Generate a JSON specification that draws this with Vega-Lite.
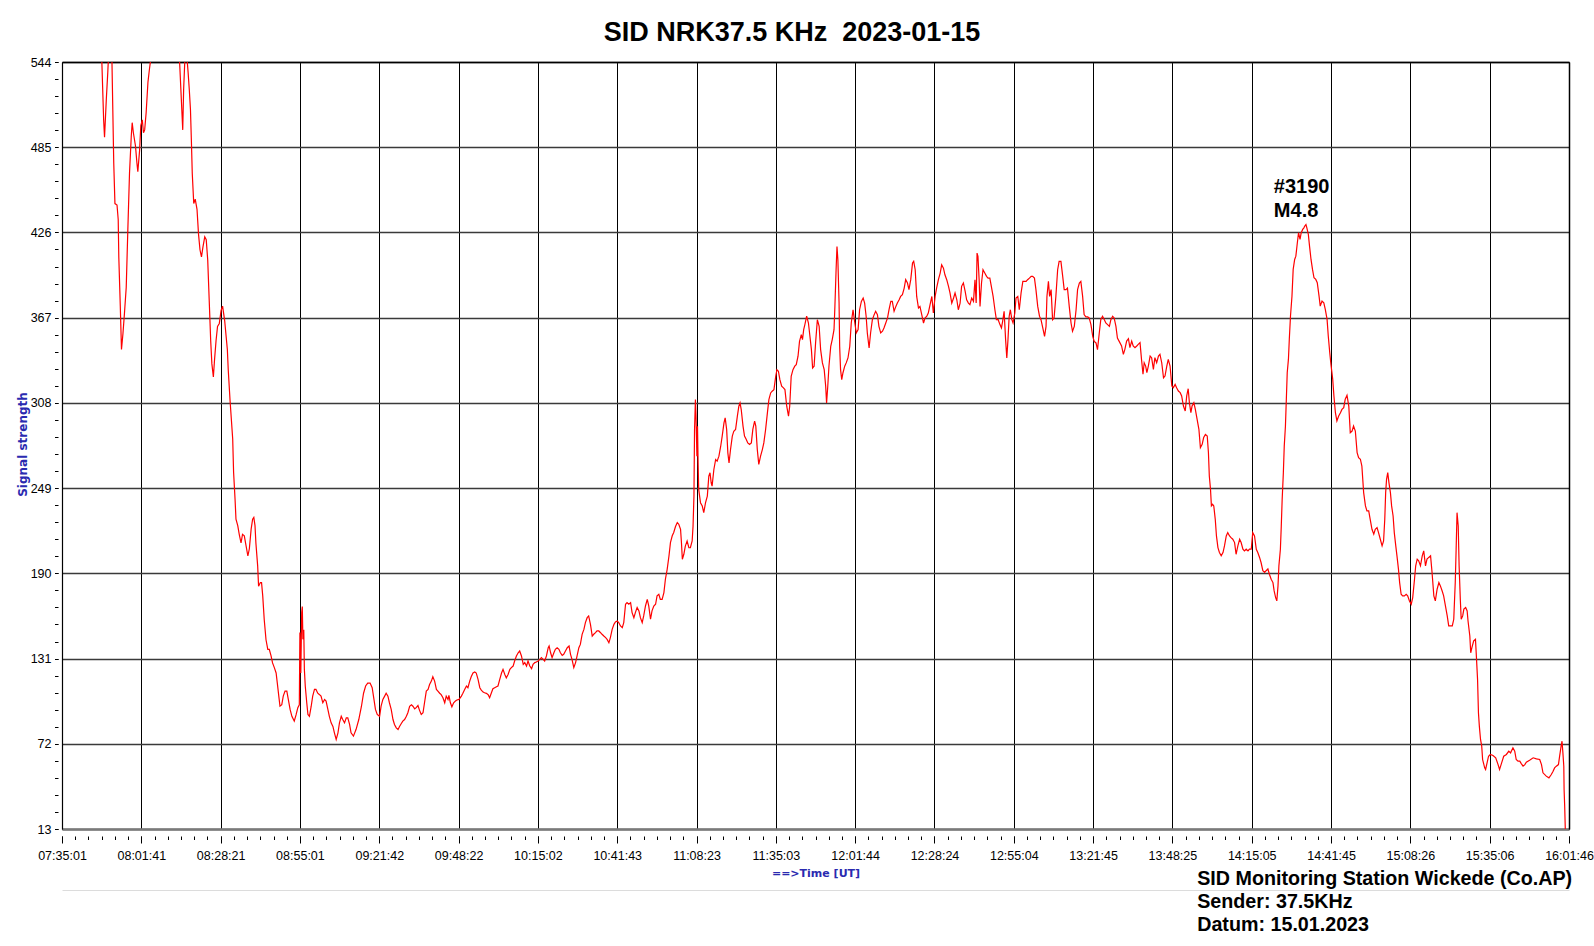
{
  "$schema": "https://vega.github.io/schema/vega-lite/v6.json",
  "description": "SID signal strength of NRK 37.5 kHz on 2023-01-15, recorded in Wickede, with the M4.8 flare #3190.",
  "width": 1507,
  "height": 767,
  "autosize": "none",
  "padding": {"left": 62, "top": 62, "right": 25, "bottom": 117},
  "background": "white",
  "config": {"view": {"stroke": null}, "font": "Liberation Sans"},
  "data": {
    "values": [
      {"t": 13.2, "signal": 560}, {"t": 13.4, "signal": 544}, {"t": 14.0, "signal": 504}, {"t": 14.3, "signal": 492},
      {"t": 14.9, "signal": 518}, {"t": 15.4, "signal": 537}, {"t": 15.9, "signal": 560}, {"t": 16.4, "signal": 560},
      {"t": 16.8, "signal": 544}, {"t": 17.1, "signal": 509}, {"t": 17.4, "signal": 474}, {"t": 17.8, "signal": 446},
      {"t": 18.5, "signal": 445}, {"t": 18.9, "signal": 435}, {"t": 19.1, "signal": 409}, {"t": 19.6, "signal": 375},
      {"t": 20.0, "signal": 345}, {"t": 20.5, "signal": 356}, {"t": 21.0, "signal": 370}, {"t": 21.6, "signal": 388},
      {"t": 22.1, "signal": 425}, {"t": 22.7, "signal": 467}, {"t": 23.3, "signal": 493}, {"t": 23.6, "signal": 502},
      {"t": 24.0, "signal": 495}, {"t": 24.7, "signal": 486}, {"t": 25.2, "signal": 474}, {"t": 25.5, "signal": 468},
      {"t": 26.1, "signal": 483}, {"t": 26.5, "signal": 500}, {"t": 27.0, "signal": 504}, {"t": 27.4, "signal": 495},
      {"t": 27.8, "signal": 497}, {"t": 28.3, "signal": 509}, {"t": 28.9, "signal": 530}, {"t": 29.4, "signal": 539},
      {"t": 30.1, "signal": 550}, {"t": 31.6, "signal": 575}, {"t": 33.9, "signal": 590}, {"t": 36.1, "signal": 585},
      {"t": 38.4, "signal": 565}, {"t": 39.5, "signal": 546}, {"t": 40.6, "signal": 497}, {"t": 40.9, "signal": 525},
      {"t": 41.4, "signal": 550}, {"t": 41.9, "signal": 550}, {"t": 42.4, "signal": 537}, {"t": 42.8, "signal": 525},
      {"t": 43.2, "signal": 511}, {"t": 43.5, "signal": 490}, {"t": 43.8, "signal": 467}, {"t": 44.3, "signal": 446},
      {"t": 44.8, "signal": 449}, {"t": 45.4, "signal": 442}, {"t": 45.9, "signal": 425}, {"t": 46.4, "signal": 414},
      {"t": 46.9, "signal": 409}, {"t": 47.4, "signal": 416}, {"t": 48.0, "signal": 423}, {"t": 48.5, "signal": 421},
      {"t": 49.0, "signal": 407}, {"t": 49.5, "signal": 379}, {"t": 50.0, "signal": 351}, {"t": 50.4, "signal": 335},
      {"t": 50.9, "signal": 326}, {"t": 51.3, "signal": 338}, {"t": 51.8, "signal": 351}, {"t": 52.3, "signal": 361},
      {"t": 52.9, "signal": 363}, {"t": 53.5, "signal": 372}, {"t": 54.0, "signal": 375}, {"t": 54.7, "signal": 365},
      {"t": 55.1, "signal": 356}, {"t": 55.6, "signal": 345}, {"t": 55.9, "signal": 331}, {"t": 56.5, "signal": 310},
      {"t": 57.4, "signal": 283}, {"t": 57.7, "signal": 260}, {"t": 58.2, "signal": 241}, {"t": 58.5, "signal": 227.5},
      {"t": 59.1, "signal": 223}, {"t": 59.6, "signal": 217}, {"t": 60.2, "signal": 211}, {"t": 60.7, "signal": 217},
      {"t": 61.3, "signal": 216}, {"t": 61.9, "signal": 209}, {"t": 62.5, "signal": 202}, {"t": 63.0, "signal": 207},
      {"t": 63.6, "signal": 220.6}, {"t": 64.1, "signal": 227.5}, {"t": 64.5, "signal": 228.7}, {"t": 64.9, "signal": 223},
      {"t": 65.2, "signal": 211}, {"t": 65.8, "signal": 195}, {"t": 66.1, "signal": 181}, {"t": 66.7, "signal": 183.6},
      {"t": 67.1, "signal": 183.6}, {"t": 67.5, "signal": 174.4}, {"t": 68.0, "signal": 158}, {"t": 68.6, "signal": 144},
      {"t": 69.2, "signal": 137.4}, {"t": 69.7, "signal": 137.4}, {"t": 70.3, "signal": 132.8}, {"t": 70.8, "signal": 128},
      {"t": 71.4, "signal": 124.7}, {"t": 72.0, "signal": 121}, {"t": 72.4, "signal": 114}, {"t": 72.9, "signal": 105},
      {"t": 73.3, "signal": 98}, {"t": 73.9, "signal": 99}, {"t": 74.4, "signal": 105}, {"t": 75.0, "signal": 108.5},
      {"t": 75.6, "signal": 108.5}, {"t": 76.1, "signal": 102.7}, {"t": 76.7, "signal": 95.8}, {"t": 77.3, "signal": 91},
      {"t": 78.1, "signal": 87.7}, {"t": 78.7, "signal": 92}, {"t": 79.3, "signal": 97}, {"t": 79.8, "signal": 99},
      {"t": 80.0, "signal": 149}, {"t": 80.3, "signal": 121}, {"t": 80.6, "signal": 162.8}, {"t": 80.8, "signal": 167},
      {"t": 81.0, "signal": 144.3}, {"t": 81.3, "signal": 151}, {"t": 81.5, "signal": 123.5}, {"t": 81.8, "signal": 112},
      {"t": 82.3, "signal": 100.4}, {"t": 82.7, "signal": 92.3}, {"t": 83.2, "signal": 91}, {"t": 83.8, "signal": 98},
      {"t": 84.3, "signal": 105}, {"t": 84.9, "signal": 109.6}, {"t": 85.4, "signal": 109.6}, {"t": 86.0, "signal": 107},
      {"t": 86.6, "signal": 106}, {"t": 87.1, "signal": 105}, {"t": 87.7, "signal": 100.4}, {"t": 88.3, "signal": 102.7},
      {"t": 88.8, "signal": 101.6}, {"t": 89.4, "signal": 95.8}, {"t": 89.9, "signal": 91}, {"t": 90.5, "signal": 86.5},
      {"t": 91.1, "signal": 84}, {"t": 91.6, "signal": 79.6}, {"t": 92.2, "signal": 75}, {"t": 92.8, "signal": 79.6},
      {"t": 93.3, "signal": 86.5}, {"t": 93.9, "signal": 91}, {"t": 94.4, "signal": 88.8}, {"t": 95.0, "signal": 86.5},
      {"t": 95.6, "signal": 90}, {"t": 96.1, "signal": 90}, {"t": 96.7, "signal": 85.4}, {"t": 97.2, "signal": 79.6},
      {"t": 98.0, "signal": 77.3}, {"t": 98.9, "signal": 82}, {"t": 99.8, "signal": 88.8}, {"t": 100.7, "signal": 98},
      {"t": 101.4, "signal": 107}, {"t": 102.1, "signal": 112}, {"t": 102.8, "signal": 114}, {"t": 103.6, "signal": 114},
      {"t": 104.3, "signal": 110.8}, {"t": 104.9, "signal": 102.7}, {"t": 105.4, "signal": 95.8}, {"t": 106.0, "signal": 92.3},
      {"t": 106.8, "signal": 91}, {"t": 107.3, "signal": 98}, {"t": 107.9, "signal": 102.7}, {"t": 108.5, "signal": 105},
      {"t": 109.0, "signal": 107}, {"t": 109.6, "signal": 105}, {"t": 110.1, "signal": 100.4}, {"t": 110.7, "signal": 95.8},
      {"t": 111.3, "signal": 88.8}, {"t": 111.8, "signal": 85.4}, {"t": 112.4, "signal": 83}, {"t": 113.0, "signal": 81.9},
      {"t": 113.5, "signal": 84}, {"t": 114.1, "signal": 86}, {"t": 114.6, "signal": 87.7}, {"t": 115.2, "signal": 88.8},
      {"t": 115.8, "signal": 91}, {"t": 116.3, "signal": 93.5}, {"t": 116.9, "signal": 98}, {"t": 117.5, "signal": 99},
      {"t": 118.0, "signal": 98}, {"t": 118.6, "signal": 96.2}, {"t": 119.1, "signal": 97}, {"t": 119.7, "signal": 98.5},
      {"t": 120.2, "signal": 95.3}, {"t": 120.8, "signal": 92.3}, {"t": 121.4, "signal": 93.5}, {"t": 121.9, "signal": 100.4},
      {"t": 122.5, "signal": 108.5}, {"t": 123.1, "signal": 109.6}, {"t": 123.6, "signal": 113}, {"t": 124.2, "signal": 115.4},
      {"t": 124.7, "signal": 118.4}, {"t": 125.3, "signal": 115.4}, {"t": 125.9, "signal": 109.6}, {"t": 126.4, "signal": 108.5},
      {"t": 127.0, "signal": 107}, {"t": 127.5, "signal": 106}, {"t": 128.1, "signal": 103.9}, {"t": 128.7, "signal": 100.4},
      {"t": 129.2, "signal": 105}, {"t": 129.8, "signal": 102.7}, {"t": 130.1, "signal": 105.5}, {"t": 130.6, "signal": 100.4},
      {"t": 131.1, "signal": 97.6}, {"t": 131.7, "signal": 100.4}, {"t": 132.3, "signal": 101.6}, {"t": 132.8, "signal": 102.3},
      {"t": 133.5, "signal": 102.7}, {"t": 134.3, "signal": 105}, {"t": 134.8, "signal": 107}, {"t": 135.4, "signal": 109.6},
      {"t": 136.0, "signal": 112}, {"t": 136.5, "signal": 110.8}, {"t": 137.1, "signal": 115.4}, {"t": 137.6, "signal": 118.4},
      {"t": 138.2, "signal": 121}, {"t": 138.8, "signal": 121.7}, {"t": 139.3, "signal": 121}, {"t": 139.9, "signal": 116.6},
      {"t": 140.5, "signal": 110.8}, {"t": 141.0, "signal": 109.2}, {"t": 141.6, "signal": 107.8}, {"t": 142.1, "signal": 107.3},
      {"t": 142.7, "signal": 106.9}, {"t": 143.3, "signal": 106}, {"t": 143.8, "signal": 103.9}, {"t": 144.4, "signal": 107.3},
      {"t": 144.9, "signal": 110.1}, {"t": 145.5, "signal": 110.8}, {"t": 146.1, "signal": 111.5}, {"t": 146.6, "signal": 112},
      {"t": 147.2, "signal": 116.6}, {"t": 147.8, "signal": 121}, {"t": 148.3, "signal": 123.5}, {"t": 148.9, "signal": 120},
      {"t": 149.4, "signal": 117.7}, {"t": 150.0, "signal": 120}, {"t": 150.6, "signal": 123.5}, {"t": 151.1, "signal": 124.7},
      {"t": 151.7, "signal": 125.8}, {"t": 152.2, "signal": 129.3}, {"t": 152.8, "signal": 132.8}, {"t": 153.4, "signal": 135},
      {"t": 153.9, "signal": 136.2}, {"t": 154.5, "signal": 132.8}, {"t": 155.1, "signal": 127}, {"t": 155.6, "signal": 128.2},
      {"t": 156.2, "signal": 125.8}, {"t": 156.7, "signal": 129.3}, {"t": 157.3, "signal": 125.8}, {"t": 157.9, "signal": 124},
      {"t": 158.4, "signal": 127}, {"t": 159.0, "signal": 128.2}, {"t": 159.5, "signal": 128.6}, {"t": 160.1, "signal": 129.3},
      {"t": 160.7, "signal": 130.4}, {"t": 161.2, "signal": 131.6}, {"t": 161.8, "signal": 130.4}, {"t": 162.3, "signal": 129.3},
      {"t": 162.9, "signal": 132.8}, {"t": 163.5, "signal": 138.5}, {"t": 163.8, "signal": 139.7}, {"t": 164.3, "signal": 135},
      {"t": 164.8, "signal": 131.6}, {"t": 165.4, "signal": 135}, {"t": 165.9, "signal": 137.4}, {"t": 166.5, "signal": 138.5},
      {"t": 167.1, "signal": 137.4}, {"t": 167.6, "signal": 135}, {"t": 168.2, "signal": 133.2}, {"t": 168.7, "signal": 133.9},
      {"t": 169.3, "signal": 136.2}, {"t": 169.9, "signal": 138.5}, {"t": 170.5, "signal": 139.7}, {"t": 171.0, "signal": 133.9},
      {"t": 171.5, "signal": 130.4}, {"t": 172.1, "signal": 124.7}, {"t": 172.7, "signal": 128.2}, {"t": 173.2, "signal": 132.8},
      {"t": 173.8, "signal": 138.5}, {"t": 174.3, "signal": 140.8}, {"t": 174.9, "signal": 147.8}, {"t": 175.5, "signal": 151.2},
      {"t": 176.0, "signal": 155.9}, {"t": 176.6, "signal": 159.3}, {"t": 177.1, "signal": 160.5}, {"t": 177.7, "signal": 154.7},
      {"t": 178.3, "signal": 146.6}, {"t": 178.8, "signal": 147.8}, {"t": 179.4, "signal": 148.9}, {"t": 179.9, "signal": 150.1},
      {"t": 180.5, "signal": 150.1}, {"t": 181.1, "signal": 148.9}, {"t": 181.6, "signal": 147.8}, {"t": 182.2, "signal": 146.6},
      {"t": 182.8, "signal": 145.5}, {"t": 183.3, "signal": 144.3}, {"t": 183.9, "signal": 142}, {"t": 184.4, "signal": 145.5},
      {"t": 185.0, "signal": 151.2}, {"t": 185.6, "signal": 154.7}, {"t": 186.1, "signal": 156.3}, {"t": 186.7, "signal": 157},
      {"t": 187.2, "signal": 155.9}, {"t": 187.8, "signal": 153.6}, {"t": 188.4, "signal": 152.4}, {"t": 188.9, "signal": 155.9},
      {"t": 189.5, "signal": 168.6}, {"t": 190.0, "signal": 169.7}, {"t": 190.6, "signal": 168.6}, {"t": 191.2, "signal": 169.7},
      {"t": 191.7, "signal": 162.8}, {"t": 192.3, "signal": 159.3}, {"t": 192.8, "signal": 162.8}, {"t": 193.4, "signal": 166.3},
      {"t": 194.0, "signal": 164}, {"t": 194.5, "signal": 159.3}, {"t": 195.1, "signal": 155.9}, {"t": 195.6, "signal": 160.5},
      {"t": 196.2, "signal": 167.4}, {"t": 196.8, "signal": 172}, {"t": 197.3, "signal": 167.4}, {"t": 197.9, "signal": 158.2},
      {"t": 198.4, "signal": 164}, {"t": 199.0, "signal": 167.4}, {"t": 199.6, "signal": 168.6}, {"t": 200.1, "signal": 174.4},
      {"t": 200.7, "signal": 175.5}, {"t": 201.2, "signal": 172}, {"t": 201.8, "signal": 172}, {"t": 202.4, "signal": 176.7},
      {"t": 202.9, "signal": 185.9}, {"t": 203.5, "signal": 192.8}, {"t": 204.1, "signal": 202}, {"t": 204.6, "signal": 211.3},
      {"t": 205.2, "signal": 216}, {"t": 205.7, "signal": 218.3}, {"t": 206.3, "signal": 222.4}, {"t": 206.9, "signal": 225.2},
      {"t": 207.4, "signal": 224}, {"t": 208.0, "signal": 220.4}, {"t": 208.3, "signal": 211.2}, {"t": 208.6, "signal": 199.7},
      {"t": 209.1, "signal": 203.2}, {"t": 209.6, "signal": 208.9}, {"t": 210.2, "signal": 212.4}, {"t": 210.8, "signal": 207.7},
      {"t": 211.3, "signal": 207.7}, {"t": 211.9, "signal": 212.4}, {"t": 212.2, "signal": 222.7}, {"t": 212.5, "signal": 243.5},
      {"t": 212.7, "signal": 289.6}, {"t": 213.0, "signal": 310.3}, {"t": 213.2, "signal": 298.8}, {"t": 213.5, "signal": 271},
      {"t": 213.7, "signal": 291.9}, {"t": 213.9, "signal": 266.5}, {"t": 214.1, "signal": 248.1}, {"t": 214.7, "signal": 238.9},
      {"t": 215.3, "signal": 236.6}, {"t": 215.8, "signal": 232}, {"t": 216.4, "signal": 238.9}, {"t": 217.0, "signal": 243.5},
      {"t": 217.5, "signal": 257.3}, {"t": 217.9, "signal": 259.6}, {"t": 218.3, "signal": 252.7}, {"t": 218.6, "signal": 250.4},
      {"t": 219.2, "signal": 261.9}, {"t": 219.8, "signal": 268.8}, {"t": 220.3, "signal": 267.7}, {"t": 220.9, "signal": 271.1},
      {"t": 221.5, "signal": 278}, {"t": 222.0, "signal": 285}, {"t": 222.6, "signal": 294.2}, {"t": 223.0, "signal": 297.6},
      {"t": 223.5, "signal": 289.6}, {"t": 223.9, "signal": 273.4}, {"t": 224.3, "signal": 266.5}, {"t": 224.8, "signal": 275.7},
      {"t": 225.4, "signal": 285}, {"t": 225.9, "signal": 288.4}, {"t": 226.5, "signal": 289.6}, {"t": 227.1, "signal": 298.8},
      {"t": 227.6, "signal": 305.7}, {"t": 228.0, "signal": 308}, {"t": 228.4, "signal": 303.4}, {"t": 229.0, "signal": 291.9},
      {"t": 229.5, "signal": 285}, {"t": 230.1, "signal": 282.6}, {"t": 230.6, "signal": 280.3}, {"t": 231.2, "signal": 279.2},
      {"t": 231.8, "signal": 280.3}, {"t": 232.3, "signal": 289.6}, {"t": 232.9, "signal": 295.3}, {"t": 233.3, "signal": 291.9},
      {"t": 233.8, "signal": 275.7}, {"t": 234.3, "signal": 265.4}, {"t": 234.9, "signal": 271.1}, {"t": 235.5, "signal": 275.7},
      {"t": 236.0, "signal": 280.3}, {"t": 236.6, "signal": 289.6}, {"t": 237.2, "signal": 301.1}, {"t": 237.7, "signal": 310.3},
      {"t": 238.3, "signal": 314.9}, {"t": 238.8, "signal": 316.1}, {"t": 239.4, "signal": 317.2}, {"t": 240.0, "signal": 326.4},
      {"t": 240.4, "signal": 331}, {"t": 240.9, "signal": 329.9}, {"t": 241.4, "signal": 324.1}, {"t": 242.0, "signal": 319.5},
      {"t": 242.6, "signal": 318.4}, {"t": 243.1, "signal": 317.2}, {"t": 243.7, "signal": 305.7}, {"t": 244.3, "signal": 298.8},
      {"t": 244.7, "signal": 305.7}, {"t": 245.2, "signal": 326.4}, {"t": 245.8, "signal": 331}, {"t": 246.4, "signal": 333.4},
      {"t": 246.9, "signal": 334.5}, {"t": 247.5, "signal": 340.3}, {"t": 248.0, "signal": 350.6}, {"t": 248.6, "signal": 355.2},
      {"t": 249.0, "signal": 351.8}, {"t": 249.4, "signal": 358.7}, {"t": 249.8, "signal": 362.2}, {"t": 250.4, "signal": 368},
      {"t": 251.0, "signal": 363.3}, {"t": 251.5, "signal": 354.1}, {"t": 252.0, "signal": 344.9}, {"t": 252.4, "signal": 332.2},
      {"t": 252.9, "signal": 333.4}, {"t": 253.4, "signal": 349.5}, {"t": 254.0, "signal": 365.6}, {"t": 254.6, "signal": 361},
      {"t": 255.1, "signal": 344.9}, {"t": 255.7, "signal": 335.7}, {"t": 256.3, "signal": 331}, {"t": 256.8, "signal": 319.5},
      {"t": 257.1, "signal": 308}, {"t": 257.5, "signal": 319.5}, {"t": 257.9, "signal": 333.4}, {"t": 258.5, "signal": 347.2},
      {"t": 259.0, "signal": 351.8}, {"t": 259.6, "signal": 358.7}, {"t": 259.9, "signal": 374.8}, {"t": 260.3, "signal": 400.2},
      {"t": 260.6, "signal": 416.3}, {"t": 260.9, "signal": 407.1}, {"t": 261.3, "signal": 377.1}, {"t": 261.5, "signal": 347.2},
      {"t": 261.8, "signal": 331}, {"t": 262.2, "signal": 324.1}, {"t": 262.6, "signal": 328.7}, {"t": 263.2, "signal": 333.4},
      {"t": 263.7, "signal": 335.7}, {"t": 264.3, "signal": 339.1}, {"t": 264.9, "signal": 347.2}, {"t": 265.4, "signal": 363.3},
      {"t": 266.0, "signal": 372.5}, {"t": 266.6, "signal": 363.3}, {"t": 267.1, "signal": 356.4}, {"t": 267.7, "signal": 358.7},
      {"t": 268.2, "signal": 372.5}, {"t": 268.8, "signal": 378.3}, {"t": 269.4, "signal": 380.6}, {"t": 269.9, "signal": 377.1},
      {"t": 270.4, "signal": 368}, {"t": 270.8, "signal": 356.4}, {"t": 271.4, "signal": 346}, {"t": 271.9, "signal": 356.4},
      {"t": 272.5, "signal": 365.6}, {"t": 273.1, "signal": 369.1}, {"t": 273.6, "signal": 371.4}, {"t": 274.2, "signal": 369.1},
      {"t": 274.7, "signal": 361}, {"t": 275.3, "signal": 356.4}, {"t": 275.9, "signal": 357.6}, {"t": 276.4, "signal": 359.9},
      {"t": 277.0, "signal": 363.3}, {"t": 277.6, "signal": 366.8}, {"t": 278.1, "signal": 372.5}, {"t": 278.7, "signal": 378.3},
      {"t": 279.2, "signal": 378.3}, {"t": 279.8, "signal": 371.4}, {"t": 280.4, "signal": 374.8}, {"t": 280.9, "signal": 377.1},
      {"t": 281.5, "signal": 379.4}, {"t": 282.0, "signal": 381.7}, {"t": 282.6, "signal": 382.9}, {"t": 283.2, "signal": 387.5},
      {"t": 283.7, "signal": 393.3}, {"t": 284.3, "signal": 391}, {"t": 284.8, "signal": 386.4}, {"t": 285.4, "signal": 393.3},
      {"t": 286.0, "signal": 404.8}, {"t": 286.4, "signal": 406}, {"t": 286.9, "signal": 400.2}, {"t": 287.4, "signal": 381.7},
      {"t": 288.0, "signal": 373.7}, {"t": 288.5, "signal": 374.8}, {"t": 289.1, "signal": 369.1}, {"t": 289.7, "signal": 363.3},
      {"t": 290.2, "signal": 366.8}, {"t": 290.8, "signal": 368}, {"t": 291.3, "signal": 370.2}, {"t": 291.9, "signal": 376},
      {"t": 292.5, "signal": 381.7}, {"t": 293.0, "signal": 370.2}, {"t": 293.6, "signal": 381.7}, {"t": 294.1, "signal": 387.5},
      {"t": 294.7, "signal": 393.3}, {"t": 295.3, "signal": 397.9}, {"t": 295.8, "signal": 403.6}, {"t": 296.4, "signal": 401.3},
      {"t": 296.9, "signal": 396.7}, {"t": 297.5, "signal": 393.3}, {"t": 298.1, "signal": 388.7}, {"t": 298.6, "signal": 384.1},
      {"t": 299.2, "signal": 377.1}, {"t": 299.8, "signal": 380.6}, {"t": 300.3, "signal": 384.1}, {"t": 300.9, "signal": 379.4},
      {"t": 301.4, "signal": 372.5}, {"t": 302.0, "signal": 377.1}, {"t": 302.5, "signal": 388.7}, {"t": 303.1, "signal": 391},
      {"t": 303.7, "signal": 385.2}, {"t": 304.2, "signal": 379.4}, {"t": 304.8, "signal": 377.1}, {"t": 305.3, "signal": 376},
      {"t": 305.9, "signal": 380.6}, {"t": 306.5, "signal": 378.3}, {"t": 307.0, "signal": 393.3}, {"t": 307.4, "signal": 377.1},
      {"t": 307.7, "signal": 411.7}, {"t": 308.0, "signal": 409.4}, {"t": 308.4, "signal": 393.3}, {"t": 308.7, "signal": 374.8},
      {"t": 309.2, "signal": 391}, {"t": 309.7, "signal": 400.2}, {"t": 310.3, "signal": 397.9}, {"t": 310.9, "signal": 395.6},
      {"t": 311.4, "signal": 394.4}, {"t": 312.0, "signal": 394.4}, {"t": 312.5, "signal": 388.7}, {"t": 313.1, "signal": 381.7},
      {"t": 313.7, "signal": 372.5}, {"t": 314.2, "signal": 365.6}, {"t": 314.8, "signal": 365.6}, {"t": 315.4, "signal": 362.2},
      {"t": 315.9, "signal": 359.9}, {"t": 316.3, "signal": 364.5}, {"t": 316.8, "signal": 371.4}, {"t": 317.3, "signal": 351.8},
      {"t": 317.7, "signal": 339.1}, {"t": 318.1, "signal": 351.8}, {"t": 318.5, "signal": 368}, {"t": 318.9, "signal": 372.5},
      {"t": 319.4, "signal": 365.6}, {"t": 319.8, "signal": 363.3}, {"t": 320.4, "signal": 370.2}, {"t": 320.8, "signal": 380.6},
      {"t": 321.4, "signal": 381.7}, {"t": 321.9, "signal": 372.5}, {"t": 322.5, "signal": 384.1}, {"t": 323.1, "signal": 392.1},
      {"t": 323.6, "signal": 392.1}, {"t": 324.2, "signal": 392.1}, {"t": 324.7, "signal": 393.3}, {"t": 325.3, "signal": 394.4},
      {"t": 325.9, "signal": 395.6}, {"t": 326.4, "signal": 395.6}, {"t": 327.0, "signal": 394.4}, {"t": 327.5, "signal": 386.4},
      {"t": 328.1, "signal": 374.8}, {"t": 328.7, "signal": 368}, {"t": 329.2, "signal": 365.6}, {"t": 329.8, "signal": 359.9},
      {"t": 330.4, "signal": 354.1}, {"t": 330.9, "signal": 361}, {"t": 331.2, "signal": 381.7}, {"t": 331.7, "signal": 392.1},
      {"t": 332.1, "signal": 381.7}, {"t": 332.6, "signal": 386.4}, {"t": 333.1, "signal": 365.6}, {"t": 333.6, "signal": 366.8},
      {"t": 334.2, "signal": 381.7}, {"t": 334.8, "signal": 400.2}, {"t": 335.3, "signal": 406}, {"t": 335.9, "signal": 406},
      {"t": 336.5, "signal": 395.6}, {"t": 337.0, "signal": 386.4}, {"t": 337.6, "signal": 386.4}, {"t": 338.1, "signal": 387.5},
      {"t": 338.7, "signal": 374.8}, {"t": 339.3, "signal": 363.3}, {"t": 339.8, "signal": 357.6}, {"t": 340.4, "signal": 361},
      {"t": 341.0, "signal": 372.5}, {"t": 341.5, "signal": 386.4}, {"t": 342.1, "signal": 391}, {"t": 342.6, "signal": 392.1},
      {"t": 343.2, "signal": 381.7}, {"t": 343.7, "signal": 369.1}, {"t": 344.3, "signal": 367.5}, {"t": 344.9, "signal": 367.5},
      {"t": 345.4, "signal": 366.8}, {"t": 346.0, "signal": 362.2}, {"t": 346.6, "signal": 354.1}, {"t": 347.1, "signal": 350.6},
      {"t": 347.7, "signal": 349.5}, {"t": 348.2, "signal": 344.9}, {"t": 348.8, "signal": 356.4}, {"t": 349.3, "signal": 365.6},
      {"t": 349.9, "signal": 368}, {"t": 350.5, "signal": 365.6}, {"t": 351.0, "signal": 363.3}, {"t": 351.6, "signal": 362.2},
      {"t": 352.2, "signal": 361}, {"t": 352.7, "signal": 365.6}, {"t": 353.3, "signal": 368}, {"t": 353.8, "signal": 366.8},
      {"t": 354.4, "signal": 361}, {"t": 354.9, "signal": 352.9}, {"t": 355.5, "signal": 350.6}, {"t": 356.3, "signal": 347.4},
      {"t": 356.9, "signal": 341.6}, {"t": 357.4, "signal": 345.1}, {"t": 358.0, "signal": 350.8}, {"t": 358.6, "signal": 352.4},
      {"t": 359.1, "signal": 346.2}, {"t": 359.7, "signal": 350.8}, {"t": 360.2, "signal": 347.4}, {"t": 360.8, "signal": 346.2},
      {"t": 361.4, "signal": 347.4}, {"t": 361.9, "signal": 348.5}, {"t": 362.5, "signal": 349.7}, {"t": 363.0, "signal": 338.1},
      {"t": 363.5, "signal": 327.8}, {"t": 363.9, "signal": 335.8}, {"t": 364.4, "signal": 333.5}, {"t": 364.8, "signal": 328.9},
      {"t": 365.3, "signal": 333.5}, {"t": 365.9, "signal": 340.4}, {"t": 366.4, "signal": 339.3}, {"t": 367.0, "signal": 331.2},
      {"t": 367.5, "signal": 339.3}, {"t": 368.1, "signal": 335.8}, {"t": 368.7, "signal": 340.4}, {"t": 369.2, "signal": 341.6},
      {"t": 369.8, "signal": 335.8}, {"t": 370.4, "signal": 325.4}, {"t": 370.9, "signal": 326.6}, {"t": 371.5, "signal": 333.5},
      {"t": 372.0, "signal": 338.1}, {"t": 372.6, "signal": 333.5}, {"t": 373.2, "signal": 319.7}, {"t": 373.7, "signal": 318.5},
      {"t": 374.3, "signal": 320.8}, {"t": 374.8, "signal": 318.5}, {"t": 375.4, "signal": 316.2}, {"t": 376.0, "signal": 315.1},
      {"t": 376.5, "signal": 312.8}, {"t": 377.1, "signal": 305.8}, {"t": 377.7, "signal": 302.4}, {"t": 378.2, "signal": 312.8},
      {"t": 378.7, "signal": 317.8}, {"t": 379.1, "signal": 308.1}, {"t": 379.6, "signal": 301.2}, {"t": 380.0, "signal": 305.8},
      {"t": 380.6, "signal": 308.1}, {"t": 381.1, "signal": 303.5}, {"t": 381.7, "signal": 296.6}, {"t": 382.3, "signal": 289.7},
      {"t": 382.8, "signal": 277}, {"t": 383.4, "signal": 279.3}, {"t": 383.9, "signal": 284}, {"t": 384.5, "signal": 286.2},
      {"t": 385.1, "signal": 285.1}, {"t": 385.5, "signal": 273.6}, {"t": 385.8, "signal": 257.4}, {"t": 386.2, "signal": 248.2},
      {"t": 386.5, "signal": 236.7}, {"t": 386.9, "signal": 237.8}, {"t": 387.3, "signal": 236.7}, {"t": 387.8, "signal": 227.4},
      {"t": 388.2, "signal": 215.9}, {"t": 388.7, "signal": 207.8}, {"t": 389.2, "signal": 204.4}, {"t": 389.8, "signal": 202.1},
      {"t": 390.4, "signal": 204.4}, {"t": 390.9, "signal": 209}, {"t": 391.5, "signal": 215.9}, {"t": 392.0, "signal": 218.2},
      {"t": 392.6, "signal": 215.9}, {"t": 393.1, "signal": 214.7}, {"t": 393.7, "signal": 213.6}, {"t": 394.3, "signal": 211.3},
      {"t": 394.8, "signal": 203.2}, {"t": 395.4, "signal": 209}, {"t": 396.0, "signal": 213.6}, {"t": 396.5, "signal": 211.3},
      {"t": 397.1, "signal": 206.7}, {"t": 397.6, "signal": 205.5}, {"t": 398.2, "signal": 206.7}, {"t": 398.8, "signal": 205.5},
      {"t": 399.3, "signal": 206.7}, {"t": 399.9, "signal": 206.7}, {"t": 400.4, "signal": 218.2}, {"t": 401.0, "signal": 215.9},
      {"t": 401.6, "signal": 206.7}, {"t": 402.1, "signal": 204.4}, {"t": 402.7, "signal": 201}, {"t": 403.2, "signal": 197.5},
      {"t": 403.8, "signal": 191.8}, {"t": 404.4, "signal": 190.6}, {"t": 404.9, "signal": 191.8}, {"t": 405.5, "signal": 193},
      {"t": 406.0, "signal": 189.4}, {"t": 406.6, "signal": 185.9}, {"t": 407.2, "signal": 183.6}, {"t": 407.6, "signal": 177.8},
      {"t": 408.1, "signal": 173.2}, {"t": 408.5, "signal": 170.9}, {"t": 408.9, "signal": 181.3}, {"t": 409.2, "signal": 195.2},
      {"t": 409.7, "signal": 206.7}, {"t": 410.0, "signal": 222.8}, {"t": 410.3, "signal": 241.3}, {"t": 410.7, "signal": 259.7},
      {"t": 411.0, "signal": 278.2}, {"t": 411.4, "signal": 292}, {"t": 411.7, "signal": 310.5}, {"t": 412.0, "signal": 328.9},
      {"t": 412.4, "signal": 338.1}, {"t": 412.7, "signal": 352}, {"t": 413.1, "signal": 368.1}, {"t": 413.6, "signal": 382},
      {"t": 414.0, "signal": 400.4}, {"t": 414.5, "signal": 407.3}, {"t": 414.9, "signal": 409.6}, {"t": 415.4, "signal": 418.9},
      {"t": 415.8, "signal": 425.8}, {"t": 416.3, "signal": 421.2}, {"t": 416.7, "signal": 425.8}, {"t": 417.2, "signal": 428.1},
      {"t": 417.6, "signal": 429.2}, {"t": 417.9, "signal": 430.4}, {"t": 418.3, "signal": 431.5}, {"t": 418.6, "signal": 429.2},
      {"t": 419.1, "signal": 424.6}, {"t": 419.5, "signal": 416.5}, {"t": 420.0, "signal": 407.3}, {"t": 420.5, "signal": 400.4},
      {"t": 421.0, "signal": 394.6}, {"t": 421.6, "signal": 393.5}, {"t": 422.1, "signal": 391.2}, {"t": 422.7, "signal": 381.9},
      {"t": 423.1, "signal": 375}, {"t": 423.7, "signal": 378.5}, {"t": 424.3, "signal": 377.3}, {"t": 424.8, "signal": 372.7},
      {"t": 425.4, "signal": 365.8}, {"t": 425.8, "signal": 354.3}, {"t": 426.3, "signal": 342.7}, {"t": 426.7, "signal": 334.7},
      {"t": 427.3, "signal": 324.3}, {"t": 427.7, "signal": 312.8}, {"t": 428.2, "signal": 301.2}, {"t": 428.7, "signal": 295.5},
      {"t": 429.3, "signal": 298.9}, {"t": 429.9, "signal": 301.2}, {"t": 430.4, "signal": 303.5}, {"t": 431.0, "signal": 304.7},
      {"t": 431.5, "signal": 310.5}, {"t": 432.1, "signal": 313.2}, {"t": 432.7, "signal": 305.8}, {"t": 433.2, "signal": 287.4},
      {"t": 433.8, "signal": 288.5}, {"t": 434.3, "signal": 292}, {"t": 434.9, "signal": 288.5}, {"t": 435.5, "signal": 273.6},
      {"t": 436.0, "signal": 270.1}, {"t": 436.6, "signal": 269}, {"t": 437.1, "signal": 264.3}, {"t": 437.7, "signal": 245.9},
      {"t": 438.3, "signal": 236.7}, {"t": 438.8, "signal": 233.2}, {"t": 439.4, "signal": 233.2}, {"t": 439.9, "signal": 227.4},
      {"t": 440.5, "signal": 220.5}, {"t": 441.1, "signal": 217.1}, {"t": 441.6, "signal": 220.5}, {"t": 442.2, "signal": 221.7},
      {"t": 442.7, "signal": 218.2}, {"t": 443.3, "signal": 213.6}, {"t": 443.9, "signal": 209}, {"t": 444.4, "signal": 212.4},
      {"t": 444.8, "signal": 227.4}, {"t": 445.1, "signal": 245.9}, {"t": 445.4, "signal": 255.1}, {"t": 445.8, "signal": 259.7},
      {"t": 446.2, "signal": 252.8}, {"t": 446.7, "signal": 245.9}, {"t": 447.1, "signal": 236.7}, {"t": 447.6, "signal": 229.7},
      {"t": 448.0, "signal": 218.2}, {"t": 448.5, "signal": 209}, {"t": 448.9, "signal": 202.1}, {"t": 449.4, "signal": 192.9},
      {"t": 449.8, "signal": 183.6}, {"t": 450.3, "signal": 175.5}, {"t": 450.8, "signal": 174.4}, {"t": 451.4, "signal": 174.4},
      {"t": 452.0, "signal": 175.5}, {"t": 452.5, "signal": 174.4}, {"t": 453.1, "signal": 170.9}, {"t": 453.7, "signal": 168.6},
      {"t": 454.2, "signal": 173.2}, {"t": 454.8, "signal": 185.9}, {"t": 455.2, "signal": 195.2}, {"t": 455.7, "signal": 199.8},
      {"t": 456.2, "signal": 198.6}, {"t": 456.8, "signal": 195.2}, {"t": 457.4, "signal": 202.1}, {"t": 457.9, "signal": 205.5},
      {"t": 458.5, "signal": 195.2}, {"t": 459.0, "signal": 199.8}, {"t": 459.6, "signal": 201}, {"t": 460.2, "signal": 202.1},
      {"t": 460.7, "signal": 190.6}, {"t": 461.3, "signal": 174.4}, {"t": 461.8, "signal": 170.9}, {"t": 462.4, "signal": 179},
      {"t": 463.0, "signal": 183.6}, {"t": 463.5, "signal": 181.3}, {"t": 464.1, "signal": 177.8}, {"t": 464.6, "signal": 174.4},
      {"t": 465.2, "signal": 167.5}, {"t": 465.8, "signal": 160.5}, {"t": 466.3, "signal": 153.6}, {"t": 466.9, "signal": 153.6},
      {"t": 467.5, "signal": 153.6}, {"t": 468.0, "signal": 158.2}, {"t": 468.5, "signal": 183.6}, {"t": 468.8, "signal": 206.7},
      {"t": 469.1, "signal": 232}, {"t": 469.5, "signal": 222.8}, {"t": 469.8, "signal": 195.2}, {"t": 470.2, "signal": 172.1},
      {"t": 470.5, "signal": 158.2}, {"t": 471.0, "signal": 160.5}, {"t": 471.4, "signal": 165.2}, {"t": 472.0, "signal": 166.3},
      {"t": 472.5, "signal": 164}, {"t": 472.8, "signal": 157}, {"t": 473.4, "signal": 146.6}, {"t": 473.7, "signal": 135},
      {"t": 474.1, "signal": 138.5}, {"t": 474.7, "signal": 143.2}, {"t": 475.3, "signal": 144.3}, {"t": 475.6, "signal": 132.8},
      {"t": 476.0, "signal": 116.6}, {"t": 476.3, "signal": 93.5}, {"t": 476.6, "signal": 84.2}, {"t": 477.0, "signal": 75},
      {"t": 477.4, "signal": 70.4}, {"t": 477.7, "signal": 61.1}, {"t": 478.4, "signal": 55.3}, {"t": 478.7, "signal": 54.2},
      {"t": 479.2, "signal": 58.8}, {"t": 479.7, "signal": 63.4}, {"t": 480.3, "signal": 64.6}, {"t": 481.2, "signal": 63.9},
      {"t": 482.1, "signal": 62.3}, {"t": 482.9, "signal": 57.6}, {"t": 483.4, "signal": 54.2}, {"t": 484.1, "signal": 58.8},
      {"t": 484.8, "signal": 63.4}, {"t": 485.7, "signal": 64.6}, {"t": 486.5, "signal": 66.9}, {"t": 487.1, "signal": 65.7},
      {"t": 487.9, "signal": 69.2}, {"t": 488.5, "signal": 66.9}, {"t": 489.0, "signal": 61.1}, {"t": 489.6, "signal": 60},
      {"t": 490.2, "signal": 60}, {"t": 490.7, "signal": 58.3}, {"t": 491.3, "signal": 56.5}, {"t": 491.9, "signal": 57.6},
      {"t": 492.4, "signal": 59.3}, {"t": 493.5, "signal": 60.6}, {"t": 494.7, "signal": 62.3}, {"t": 495.8, "signal": 61.6},
      {"t": 496.9, "signal": 61.1}, {"t": 497.5, "signal": 57.6}, {"t": 498.0, "signal": 51.9}, {"t": 499.1, "signal": 49.6},
      {"t": 500.0, "signal": 48.4}, {"t": 500.8, "signal": 50.7}, {"t": 501.4, "signal": 53}, {"t": 501.9, "signal": 55.3},
      {"t": 502.5, "signal": 56.5}, {"t": 503.2, "signal": 57.6}, {"t": 503.6, "signal": 63.4}, {"t": 504.1, "signal": 70.4},
      {"t": 504.4, "signal": 73.8}, {"t": 504.7, "signal": 65.7}, {"t": 505.0, "signal": 56.5}, {"t": 505.1, "signal": 40.3},
      {"t": 505.3, "signal": 28.8}, {"t": 505.5, "signal": 13}
    ]
  },
  "resolve": {"axis": {"x": "independent", "y": "independent"}},
  "layer": [
    {
      "mark": {"type": "point", "opacity": 0, "size": 0},
      "encoding": {
        "x": {
          "field": "t", "type": "quantitative",
          "scale": {"domain": [0, 506.75], "nice": false, "zero": false},
          "axis": {
            "orient": "bottom", "values": {"expr": "sequence(0, 507, 506.75 / 19)"},
            "grid": true, "gridColor": "#000", "gridWidth": 1,
            "domain": true, "domainColor": "#7a7a7a", "domainWidth": 2.5,
            "ticks": false, "labels": false, "title": null
          }
        },
        "y": {
          "field": "signal", "type": "quantitative",
          "scale": {"domain": [13, 544], "nice": false, "zero": false},
          "axis": {
            "orient": "left", "values": {"expr": "sequence(13, 545, 59)"},
            "grid": true, "gridColor": "#3a3a3a", "gridWidth": 1.6,
            "domain": true, "domainColor": "#000", "domainWidth": 1.2,
            "ticks": false, "labels": false, "title": null
          }
        }
      }
    },
    {
      "mark": {"type": "point", "opacity": 0, "size": 0},
      "encoding": {
        "x": {
          "field": "t", "type": "quantitative",
          "scale": {"domain": [0, 506.75], "nice": false, "zero": false},
          "axis": {
            "orient": "top", "domain": true, "domainColor": "#000", "domainWidth": 1.5,
            "ticks": false, "labels": false, "grid": false,
            "title": "SID NRK37.5 KHz \u00a02023-01-15",
            "titleFont": "Liberation Sans", "titleFontSize": 27, "titleFontWeight": "bold",
            "titleColor": "#000", "titleAlign": "center", "titleBaseline": "alphabetic",
            "titleX": 729.5, "titleY": -22, "titleLimit": 0
          }
        },
        "y": {
          "field": "signal", "type": "quantitative",
          "scale": {"domain": [13, 544], "nice": false, "zero": false},
          "axis": {
            "orient": "right", "domain": true, "domainColor": "#000", "domainWidth": 1.5,
            "ticks": false, "labels": false, "grid": false, "title": null
          }
        }
      }
    },
    {
      "mark": {"type": "point", "opacity": 0, "size": 0},
      "encoding": {
        "x": {
          "field": "t", "type": "quantitative",
          "scale": {"domain": [0, 506.75], "nice": false, "zero": false},
          "axis": {
            "orient": "bottom", "offset": 61, "domain": true, "domainColor": "#dcdcdc", "domainWidth": 1,
            "ticks": false, "labels": false, "grid": false, "title": null
          }
        },
        "y": {
          "field": "signal", "type": "quantitative",
          "scale": {"domain": [13, 544], "nice": false, "zero": false},
          "axis": null
        }
      }
    },
    {
      "mark": {"type": "point", "opacity": 0, "size": 0},
      "encoding": {
        "x": {
          "field": "t", "type": "quantitative",
          "scale": {"domain": [0, 506.75], "nice": false, "zero": false},
          "axis": {
            "orient": "bottom", "values": {"expr": "sequence(0, 507, 506.75 / 114)"},
            "offset": 7, "domain": false, "grid": false, "labels": false,
            "ticks": true, "tickSize": 3.5, "tickColor": "#000", "tickWidth": 1,
            "title": ["SID Monitoring Station Wickede (Co.AP)", "Sender: 37.5KHz", "Datum: 15.01.2023"],
            "titleFont": "Liberation Sans", "titleFontSize": 19.7, "titleFontWeight": "bold",
            "titleColor": "#000", "titleAlign": "left", "titleBaseline": "alphabetic",
            "titleX": 1134.7, "titleY": 48, "titleLineHeight": 23.3, "titleLimit": 0
          }
        },
        "y": {
          "field": "signal", "type": "quantitative",
          "scale": {"domain": [13, 544], "nice": false, "zero": false},
          "axis": {
            "orient": "left", "values": {"expr": "sequence(13, 545, 11.8)"},
            "offset": 4, "domain": false, "grid": false, "labels": false,
            "ticks": true, "tickSize": 3.5, "tickColor": "#000", "tickWidth": 1,
            "title": null
          }
        }
      }
    },
    {
      "mark": {"type": "line", "color": "#ff0000", "strokeWidth": 1.2, "clip": true},
      "encoding": {
        "x": {
          "field": "t", "type": "quantitative",
          "scale": {"domain": [0, 506.75], "nice": false, "zero": false},
          "axis": {
            "orient": "bottom", "values": {"expr": "sequence(0, 507, 506.75 / 19)"},
            "offset": 7, "domain": false, "grid": false,
            "ticks": true, "tickSize": 7, "tickColor": "#000", "tickWidth": 1,
            "labelExpr": "['07:35:01','08:01:41','08:28:21','08:55:01','09:21:42','09:48:22','10:15:02','10:41:43','11:08:23','11:35:03','12:01:44','12:28:24','12:55:04','13:21:45','13:48:25','14:15:05','14:41:45','15:08:26','15:35:06','16:01:46'][round(datum.value / 26.6711)]",
            "labelFont": "Liberation Sans", "labelFontSize": 12.5, "labelColor": "#000",
            "labelPadding": 6, "labelFlush": false, "labelOverlap": false, "labelBound": false,
            "title": "==>Time [UT]",
            "titleFont": "DejaVu Sans", "titleFontSize": 11, "titleFontWeight": "bold",
            "titleColor": "#2a2ab0", "titleAlign": "center", "titleBaseline": "middle",
            "titleX": 753.5, "titleY": 37
          }
        },
        "y": {
          "field": "signal", "type": "quantitative",
          "scale": {"domain": [13, 544], "nice": false, "zero": false},
          "axis": {
            "orient": "left", "values": {"expr": "sequence(13, 545, 59)"},
            "offset": 4, "domain": false, "grid": false,
            "ticks": true, "tickSize": 2, "tickColor": "#000", "tickWidth": 1,
            "labelFont": "Liberation Sans", "labelFontSize": 12.5, "labelColor": "#000",
            "labelPadding": 5, "labelFlush": false, "labelOverlap": false, "labelBound": false,
            "title": "Signal strength",
            "titleFont": "DejaVu Sans", "titleFontSize": 12, "titleFontWeight": "bold",
            "titleColor": "#2a2ab0", "titleAngle": -90, "titleAlign": "center", "titleBaseline": "middle",
            "titleX": -35.6, "titleY": 382
          }
        }
      }
    },
    {
      "data": {"values": [{}]},
      "mark": {
        "type": "text", "text": ["#3190", "M4.8"],
        "font": "Liberation Sans", "fontSize": 20, "fontWeight": "bold",
        "color": "#000", "align": "left", "baseline": "alphabetic", "lineHeight": 24
      },
      "encoding": {
        "x": {"datum": 407.5, "type": "quantitative", "scale": {"domain": [0, 506.75], "nice": false, "zero": false}, "axis": null},
        "y": {"datum": 453, "type": "quantitative", "scale": {"domain": [13, 544], "nice": false, "zero": false}, "axis": null}
      }
    }
  ]
}
